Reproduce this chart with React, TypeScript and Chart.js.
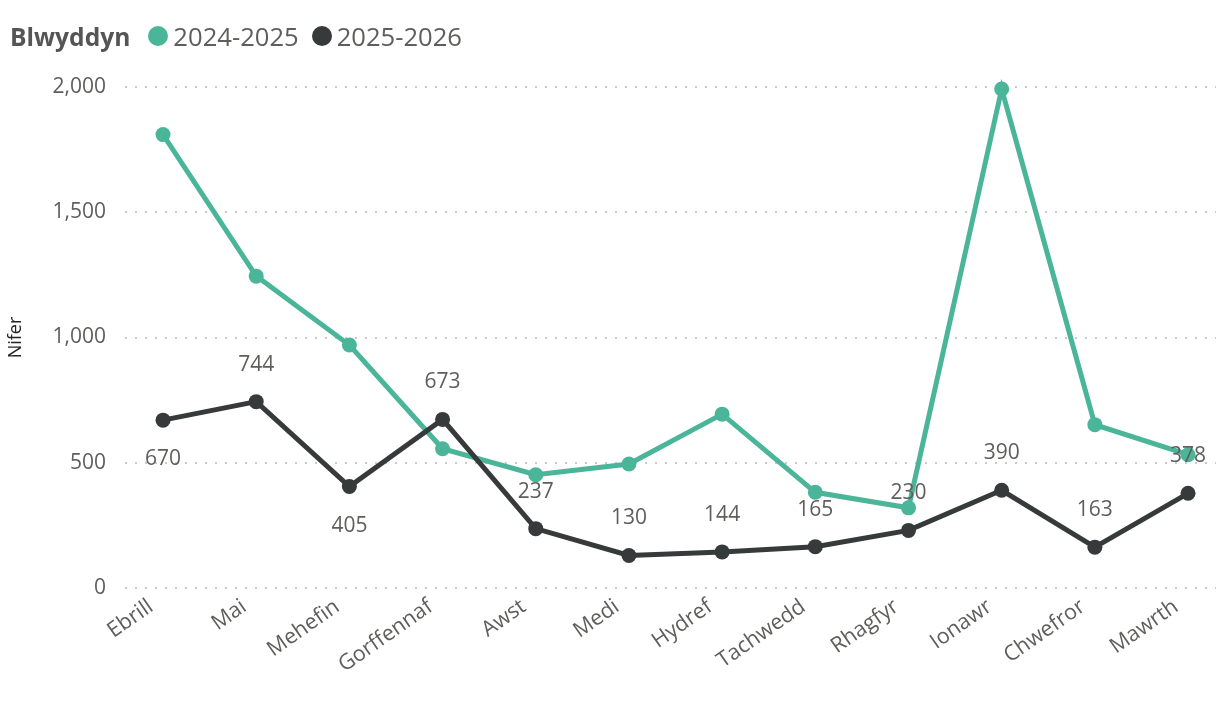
import React, { useEffect, useRef } from "react";
import { Chart, registerables } from "chart.js";

Chart.register(...registerables);

const categories = [
  "Ebrill", "Mai", "Mehefin", "Gorffennaf", "Awst", "Medi",
  "Hydref", "Tachwedd", "Rhagfyr", "Ionawr", "Chwefror", "Mawrth",
];
const series2024 = [1810, 1245, 970, 556, 452, 495, 694, 382, 320, 1992, 652, 532];
const series2025 = [670, 744, 405, 673, 237, 130, 144, 165, 230, 390, 163, 378];
const labelSide2025 = ["below", "above", "below", "above", "above", "above", "above", "above", "above", "above", "above", "above"];
const yTicks = [0, 500, 1000, 1500, 2000];

const GREEN = "#4BB59A";
const DARK = "#363A3A";
const TEXT = "#605E5C";
const FONT = '"Open Sans", "Noto Sans", sans-serif';

const dataLabelPlugin = {
  id: "dataLabels2025",
  afterDatasetsDraw(chart: any) {
    const idx = chart.data.datasets.findIndex((d: any) => d.label === "2025-2026");
    const meta = chart.getDatasetMeta(idx);
    const ctx = chart.ctx;
    ctx.save();
    ctx.font = `21px ${FONT}`;
    ctx.fillStyle = TEXT;
    ctx.textAlign = "center";
    ctx.textBaseline = "middle";
    meta.data.forEach((pt: any, i: number) => {
      const off = labelSide2025[i] === "below" ? 39 : -37;
      ctx.fillText(String(series2025[i]), pt.x, pt.y + off);
    });
    ctx.restore();
  },
};

export default function App() {
  const ref = useRef<HTMLCanvasElement | null>(null);
  useEffect(() => {
    document.body.style.margin = "0";
    if (!ref.current) return;
    const chart = new Chart(ref.current, {
      type: "line",
      data: {
        datasets: [
          {
            label: "2024-2025",
            data: series2024.map((v, i) => ({ x: i, y: v })),
            borderColor: GREEN,
            backgroundColor: GREEN,
            pointBackgroundColor: GREEN,
            pointBorderColor: GREEN,
            borderWidth: 5,
            pointRadius: 7.5,
            pointBorderWidth: 0,
            tension: 0,
            clip: false as any,
            order: 2,
          },
          {
            label: "2025-2026",
            data: series2025.map((v, i) => ({ x: i, y: v })),
            borderColor: DARK,
            backgroundColor: DARK,
            pointBackgroundColor: DARK,
            pointBorderColor: DARK,
            borderWidth: 5,
            pointRadius: 7.5,
            pointBorderWidth: 0,
            tension: 0,
            clip: false as any,
            order: 1,
          },
        ],
      },
      options: {
        animation: false,
        responsive: true,
        maintainAspectRatio: false,
        layout: { padding: { top: 87, right: 15, bottom: 0, left: 0 } },
        plugins: {
          legend: { display: false },
          tooltip: { enabled: false },
        },
        scales: {
          x: {
            type: "linear",
            min: -0.408,
            max: 11.3,
            afterBuildTicks: (scale: any) => {
              scale.ticks = categories.map((_, i) => ({ value: i }));
            },
            afterFit: (scale: any) => {
              scale.height = 130;
            },
            grid: { display: false, drawTicks: false },
            border: { display: false },
            ticks: {
              autoSkip: false,
              minRotation: 35,
              maxRotation: 35,
              padding: 6,
              labelOffset: -12,
              color: TEXT,
              font: { family: FONT, size: 21.5 },
              callback: (v: any) => categories[v as number] ?? "",
            },
          },
          y: {
            min: 0,
            max: 2000,
            afterBuildTicks: (scale: any) => {
              scale.ticks = yTicks.map((v) => ({ value: v }));
            },
            afterFit: (scale: any) => {
              scale.width = 125;
            },
            grid: { color: "#CACACA", lineWidth: 2, drawTicks: false },
            border: { display: false, dash: [2, 8] },
            ticks: {
              padding: 19,
              color: TEXT,
              font: { family: FONT, size: 21 },
              callback: (v: any) => Number(v).toLocaleString("en-US"),
            },
            title: {
              display: true,
              text: "Nifer",
              color: "#252423",
              font: { family: FONT, size: 18 },
              padding: { top: 5, bottom: 4 },
            },
          },
        },
      },
      plugins: [dataLabelPlugin],
    });
    return () => chart.destroy();
  }, []);

  const item = (color: string, text: string, ml: number) => (
    <div style={{ display: "flex", alignItems: "center", marginLeft: ml }}>
      <span style={{ width: 20, height: 20, borderRadius: 10, background: color, display: "inline-block", marginRight: 5 }} />
      <span>{text}</span>
    </div>
  );

  return (
    <div style={{ position: "absolute", left: 0, top: 0, width: 1231, height: 718, background: "#fff" }}>
      <canvas ref={ref} />
      <div
        style={{
          position: "absolute",
          left: 10,
          top: 19,
          height: 34,
          display: "flex",
          alignItems: "center",
          fontFamily: FONT,
          fontSize: 25.6,
          color: TEXT,
          whiteSpace: "nowrap",
        }}
      >
        <span style={{ fontWeight: 700, fontSize: 24.6, color: "#555" }}>Blwyddyn</span>
        {item(GREEN, "2024-2025", 18)}
        {item(DARK, "2025-2026", 13)}
      </div>
    </div>
  );
}
